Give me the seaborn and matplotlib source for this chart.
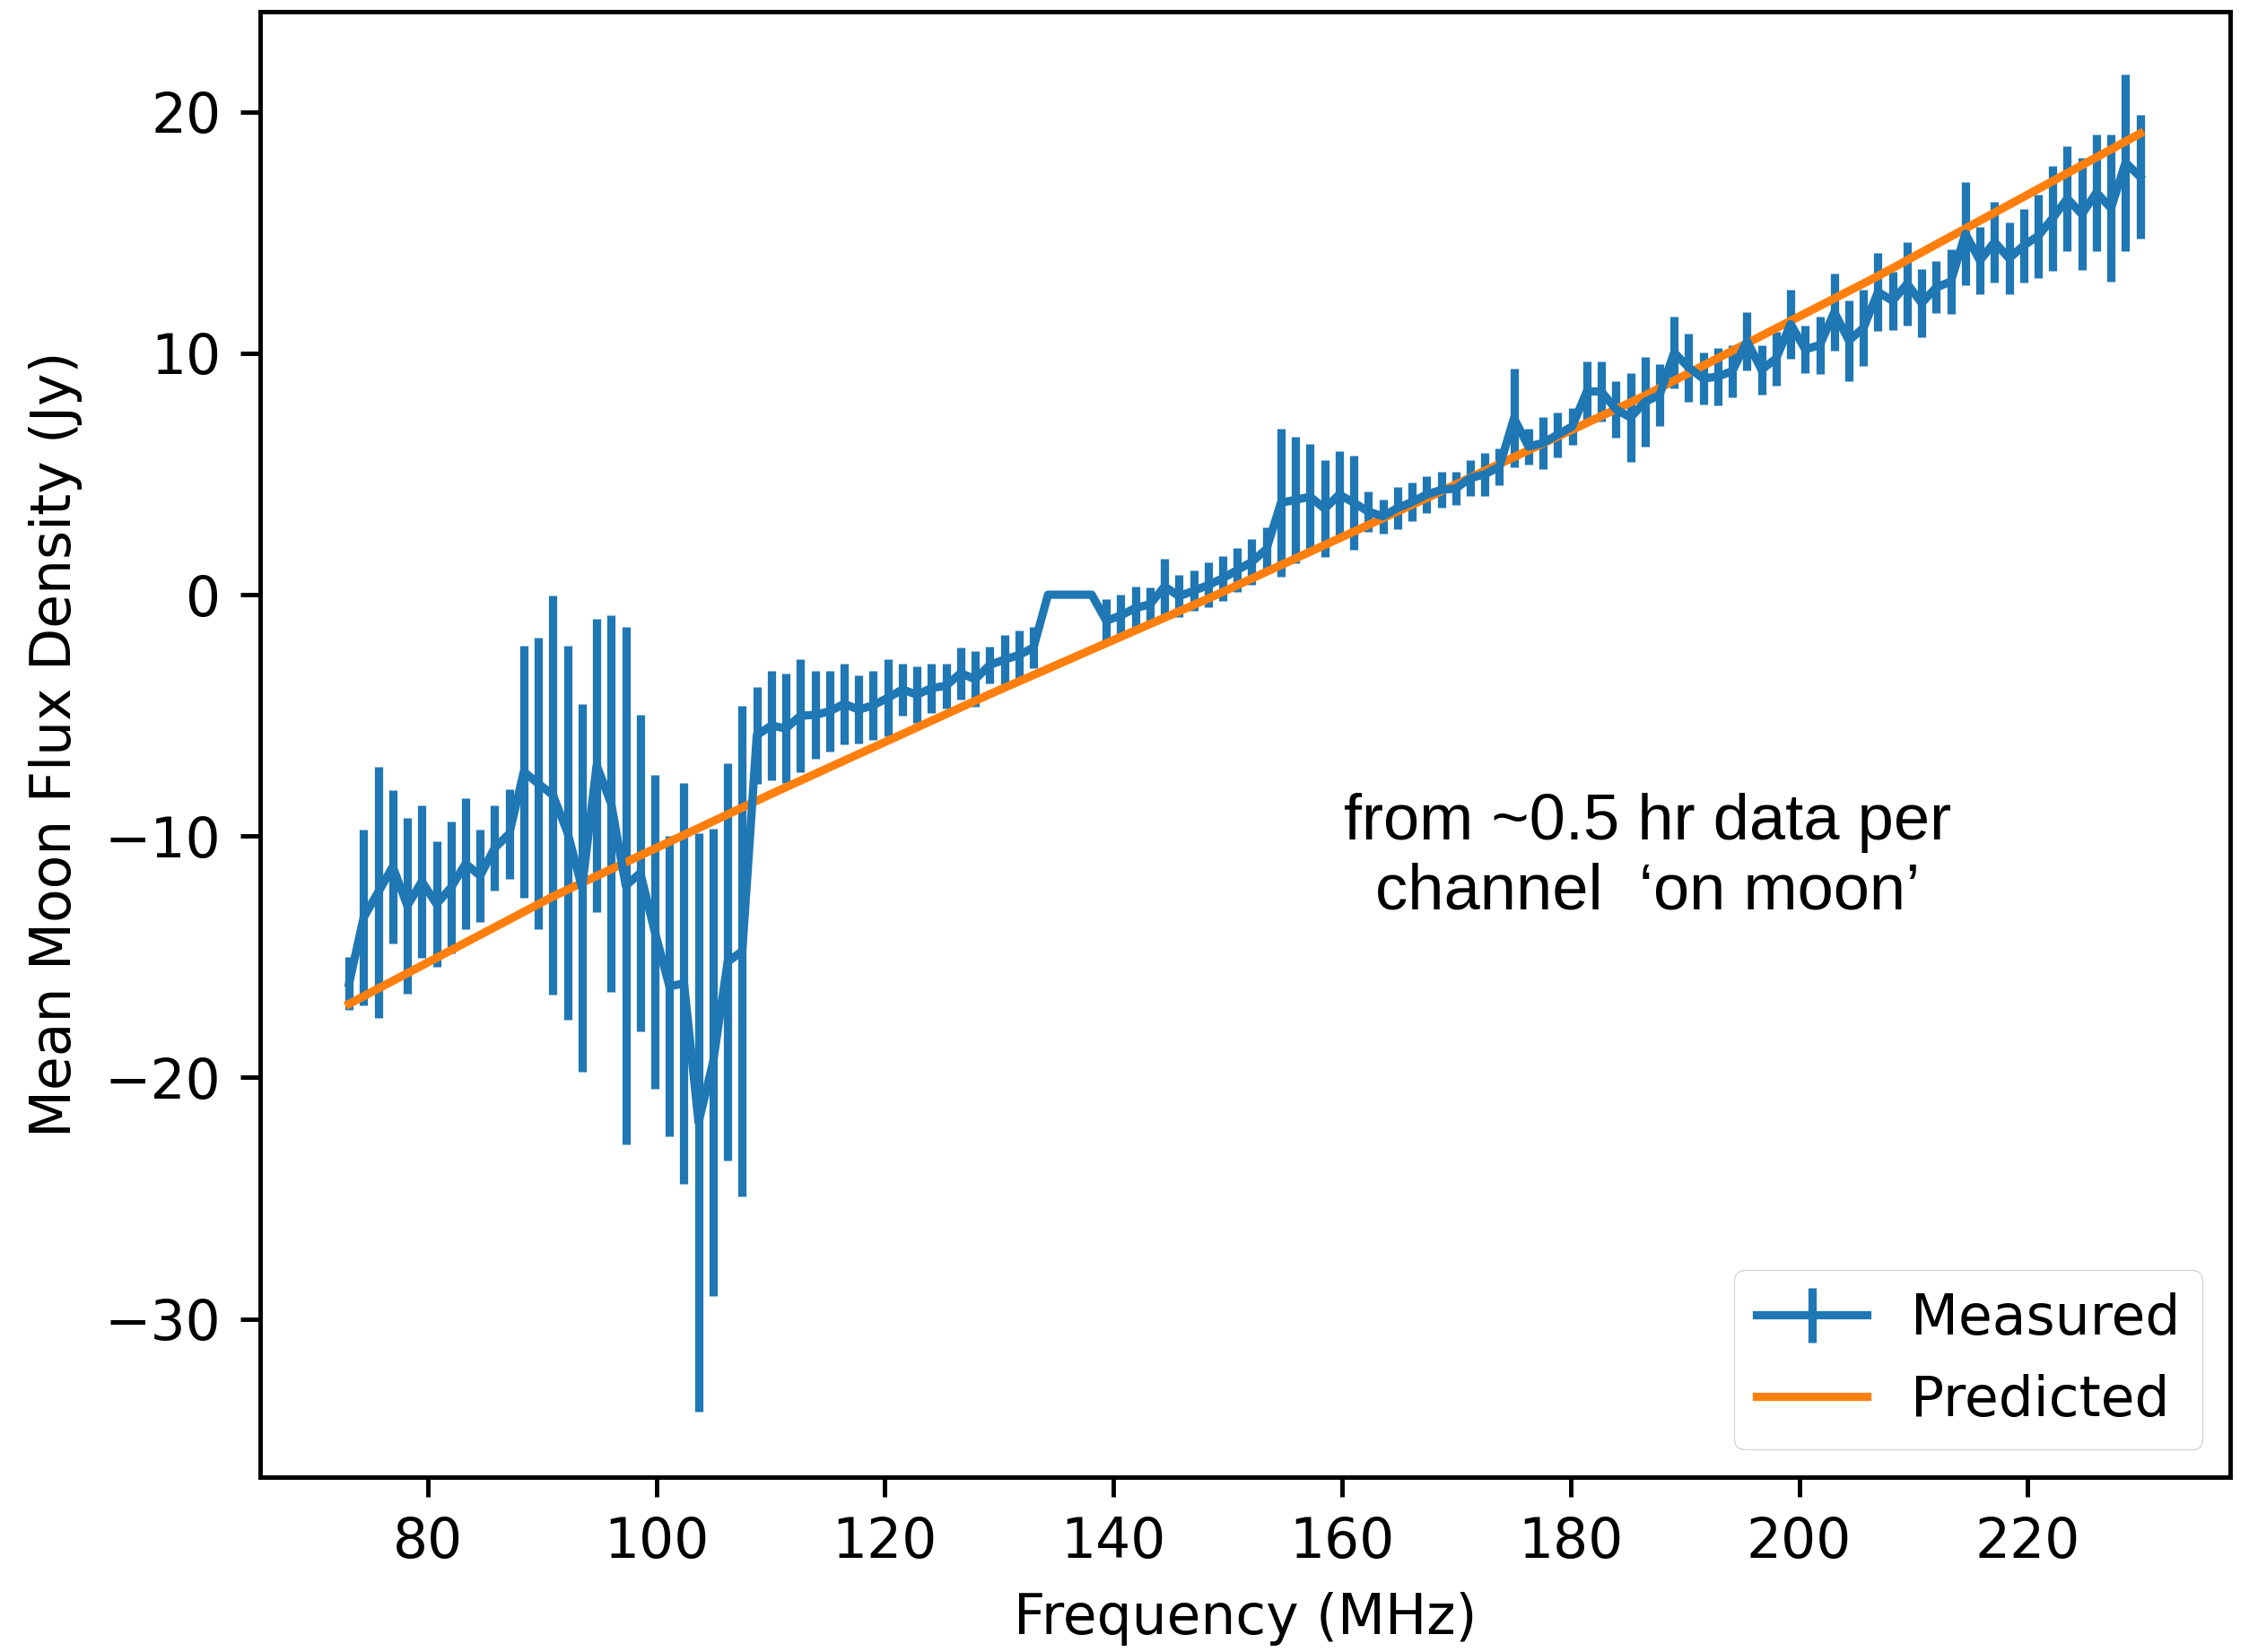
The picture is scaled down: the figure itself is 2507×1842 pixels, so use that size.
import numpy as np
import pandas as pd
import matplotlib
matplotlib.use("Agg")
import matplotlib.pyplot as plt
import seaborn as sns

# ---------------- data ----------------
n_chan = 124
freq_mhz = np.round(73.12 + 1.274 * np.arange(n_chan), 3)

measured_jy = [
    -16.10, -13.37, -12.32, -11.27, -12.88, -11.88, -12.81, -12.13, -11.14, -11.64,
    -10.49, -9.90, -7.33, -7.83, -8.30, -9.85, -12.14, -7.07, -8.65, -12.05,
    -11.53, -13.97, -16.22, -16.10, -21.85, -19.36, -15.20, -14.77, -5.82, -5.42,
    -5.54, -5.01, -4.98, -4.83, -4.52, -4.76, -4.58, -4.27, -3.93, -4.14,
    -3.87, -3.77, -3.25, -3.50, -2.91, -2.69, -2.50, -2.19, 0.00, 0.00,
    0.00, 0.00, -1.08, -0.86, -0.55, -0.40, 0.34, -0.06, 0.16, 0.40,
    0.68, 1.02, 1.36, 1.89, 3.81, 3.93, 4.06, 3.56, 4.15, 3.81,
    3.44, 3.25, 3.59, 3.84, 4.15, 4.34, 4.40, 4.83, 4.99, 5.30,
    7.31, 6.13, 6.29, 6.63, 6.97, 8.42, 8.42, 7.68, 7.34, 7.99,
    8.27, 10.03, 9.41, 8.95, 9.04, 9.26, 10.50, 9.32, 9.78, 11.21,
    10.16, 10.34, 11.70, 10.53, 11.05, 12.54, 12.17, 12.88, 12.08, 12.73,
    12.97, 14.95, 13.84, 14.61, 13.93, 14.46, 14.86, 15.60, 16.41, 15.76,
    16.66, 16.01, 17.90, 17.31,
]

measured_err = [
    1.11, 3.65, 5.20, 3.16, 3.65, 3.16, 2.60, 2.72, 2.72, 1.92,
    1.76, 1.86, 5.23, 6.04, 8.28, 7.75, 7.63, 6.07, 7.81, 10.70,
    6.57, 6.49, 6.23, 8.29, 11.98, 9.67, 8.23, 10.15, 2.00, 2.27,
    2.26, 2.35, 1.83, 1.67, 1.67, 1.42, 1.42, 1.61, 1.08, 1.18,
    1.02, 0.93, 1.08, 1.15, 0.77, 1.02, 1.02, 0.84, 0.00, 0.00,
    0.00, 0.00, 0.90, 0.87, 0.87, 0.71, 1.15, 0.87, 0.84, 0.93,
    0.93, 0.90, 0.93, 0.90, 3.07, 2.63, 2.20, 2.01, 1.80, 1.95,
    0.84, 0.71, 0.87, 0.80, 0.77, 0.74, 0.68, 0.74, 0.90, 0.77,
    2.04, 0.74, 1.08, 0.93, 0.77, 1.24, 1.24, 1.18, 1.83, 1.86,
    1.27, 1.49, 1.42, 1.08, 1.18, 1.08, 1.21, 1.02, 1.11, 1.42,
    0.99, 1.18, 1.61, 1.67, 1.58, 1.60, 1.21, 1.73, 1.42, 1.08,
    1.33, 2.14, 1.39, 1.67, 1.49, 1.52, 1.73, 2.17, 2.17, 2.32,
    2.41, 3.06, 3.65, 2.57,
]

predicted_freq = [73.12, 90.96, 110.07, 129.18, 148.29, 167.40, 186.51, 206.89, 229.82]
predicted_jy = [-16.95, -12.50, -8.25, -4.12, -0.16, 4.00, 8.25, 13.20, 19.10]

x_label = "Frequency (MHz)"
y_label = "Mean Moon Flux Density (Jy)"
note = "from ~0.5 hr data per\nchannel  \u2018on moon\u2019"

# ---------------- style ----------------
S = 4.43
plt.rcParams.update({
    "font.family": ["DejaVu Sans"],
    "font.size": 10 * S,
    "axes.linewidth": 0.8 * S,
    "xtick.major.size": 3.5 * S,
    "ytick.major.size": 3.5 * S,
    "xtick.major.width": 0.8 * S,
    "ytick.major.width": 0.8 * S,
    "xtick.major.pad": 3.5 * S,
    "ytick.major.pad": 3.5 * S,
    "axes.labelpad": 4.0 * S,
    "lines.linewidth": 1.5 * S,
    "legend.fontsize": 10 * S,
})

fig = plt.figure(figsize=(25.07, 18.42), dpi=100)
ax = fig.add_axes([289.5 / 2507, 1 - 1647 / 1842, (2486 - 289.5) / 2507, (1647 - 13) / 1842])

meas = ax.errorbar(freq_mhz, measured_jy, yerr=measured_err, color="#1f77b4",
                   lw=1.5 * S, elinewidth=1.5 * S, capsize=0, label="Measured")

pred_df = pd.DataFrame({"freq": predicted_freq, "flux": predicted_jy})
sns.lineplot(data=pred_df, x="freq", y="flux", color="#ff7f0e", lw=1.5 * S,
             ax=ax, label="Predicted", legend=False)

ax.set_xlabel(x_label)
ax.set_ylabel(y_label)
ax.set_xticks([80, 100, 120, 140, 160, 180, 200, 220])
ax.set_yticks([-30, -20, -10, 0, 10, 20])
ax.set_xlim(65.3, 237.7)
ax.set_ylim(-36.55, 24.15)

pred_line = ax.get_lines()[-1]
ax.legend([meas, pred_line], ["Measured", "Predicted"], loc="lower right")

fig.text(0.7324, 0.481, note, ha="center", va="center", multialignment="center",
         fontsize=52, family=["Liberation Sans", "DejaVu Sans"], color="black",
         linespacing=1.2)

fig.savefig("out.png", dpi=100)
